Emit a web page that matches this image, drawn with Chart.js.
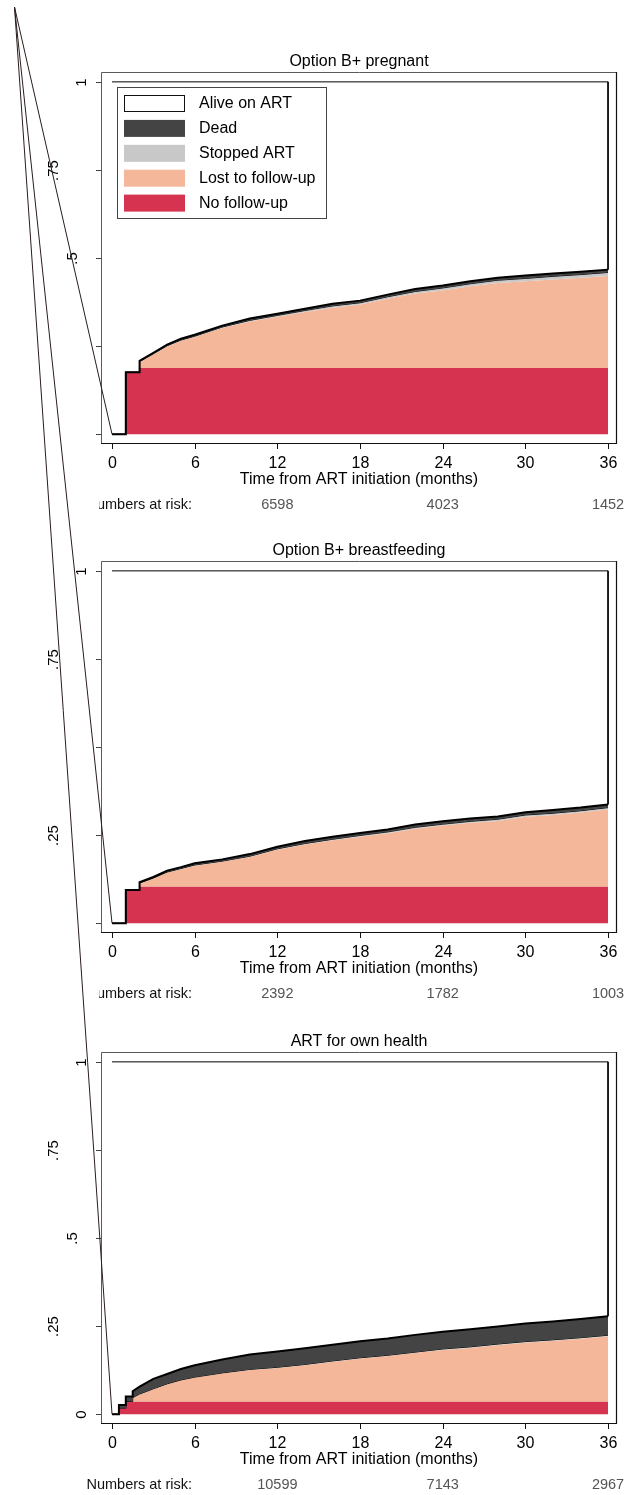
<!DOCTYPE html>
<html>
<head>
<meta charset="utf-8">
<script src="https://cdn.jsdelivr.net/npm/chart.js@4.4.1/dist/chart.umd.min.js"></script>
<style>
  html, body { margin: 0; padding: 0; background: #fff; }
  #page { position: relative; width: 627px; height: 1495px; overflow: hidden; }
  .panel { position: absolute; left: 0; }
  #overlay { position: absolute; left: 0; top: 0; pointer-events: none; }
</style>
</head>
<body>
<div id="page">
  <canvas id="c1" class="panel" width="627" height="520" style="top:0"></canvas>
  <canvas id="c2" class="panel" width="627" height="520" style="top:489px"></canvas>
  <canvas id="c3" class="panel" width="627" height="515" style="top:980px"></canvas>
  <canvas id="overlay" width="627" height="1495"></canvas>
</div>
<script>
// outcome categories, bottom of the stack first
const outcomes = ['No follow-up', 'Lost to follow-up', 'Stopped ART', 'Dead', 'Alive on ART'];
const colors = ['#d5334f', '#f4b79a', '#c8c8c8', '#444444', '#ffffff'];

const xTicks = [0, 6, 12, 18, 24, 30, 36];
const yTicks = [0, 0.25, 0.5, 0.75, 1];
const yTickLabels = ['0', '.25', '.5', '.75', '1'];
const riskTimes = [12, 24, 36];

// Option B+ pregnant (cumulative incidence of each outcome)
const pregTime    = [0, 1, 1, 2, 2, 3, 4, 5, 6, 8, 10, 12, 14, 16, 18, 20, 22, 24, 26, 28, 30, 32, 34, 36];
const pregNoFu    = [0, 0, 0.176, 0.176, 0.188, 0.188, 0.188, 0.188, 0.188, 0.188, 0.188, 0.188, 0.188, 0.188, 0.188, 0.188, 0.188, 0.188, 0.188, 0.188, 0.188, 0.188, 0.188, 0.188];
const pregLost    = [0, 0, 0, 0, 0.017, 0.039, 0.061, 0.077, 0.088, 0.113, 0.132, 0.145, 0.159, 0.171, 0.180, 0.196, 0.211, 0.220, 0.232, 0.241, 0.246, 0.251, 0.256, 0.261];
const pregStopped = [0, 0, 0, 0, 0.001, 0.001, 0.002, 0.002, 0.002, 0.003, 0.003, 0.004, 0.004, 0.005, 0.005, 0.006, 0.006, 0.007, 0.007, 0.008, 0.008, 0.009, 0.009, 0.010];
const pregDead    = [0, 0, 0, 0, 0.002, 0.003, 0.003, 0.004, 0.004, 0.004, 0.005, 0.005, 0.005, 0.006, 0.006, 0.006, 0.007, 0.007, 0.007, 0.007, 0.008, 0.008, 0.008, 0.008];
const pregRisk    = [6598, 4023, 1452];

// Option B+ breastfeeding
const bfTime    = [0, 1, 1, 2, 2, 3, 4, 5, 6, 8, 10, 12, 14, 16, 18, 20, 22, 24, 26, 28, 30, 32, 34, 36];
const bfNoFu    = [0, 0, 0.094, 0.094, 0.104, 0.104, 0.104, 0.104, 0.104, 0.104, 0.104, 0.104, 0.104, 0.104, 0.104, 0.104, 0.104, 0.104, 0.104, 0.104, 0.104, 0.104, 0.104, 0.104];
const bfLost    = [0, 0, 0, 0, 0.009, 0.023, 0.040, 0.049, 0.059, 0.070, 0.084, 0.104, 0.119, 0.131, 0.141, 0.151, 0.164, 0.173, 0.181, 0.186, 0.198, 0.203, 0.210, 0.219];
const bfStopped = [0, 0, 0, 0, 0.001, 0.001, 0.001, 0.002, 0.002, 0.002, 0.002, 0.003, 0.003, 0.003, 0.004, 0.004, 0.004, 0.004, 0.004, 0.005, 0.005, 0.005, 0.005, 0.005];
const bfDead    = [0, 0, 0, 0, 0.002, 0.003, 0.004, 0.004, 0.005, 0.005, 0.006, 0.006, 0.007, 0.007, 0.007, 0.007, 0.008, 0.008, 0.008, 0.008, 0.008, 0.009, 0.009, 0.009];
const bfRisk    = [2392, 1782, 1003];

// ART for own health
const ownTime    = [0, 0.5, 0.5, 1, 1, 1.5, 1.5, 2, 3, 4, 5, 6, 8, 10, 12, 14, 16, 18, 20, 22, 24, 26, 28, 30, 32, 34, 36];
const ownNoFu    = [0, 0, 0.017, 0.017, 0.036, 0.036, 0.036, 0.036, 0.036, 0.036, 0.036, 0.036, 0.036, 0.036, 0.036, 0.036, 0.036, 0.036, 0.036, 0.036, 0.036, 0.036, 0.036, 0.036, 0.036, 0.036, 0.036];
const ownLost    = [0, 0, 0, 0, 0, 0, 0.011, 0.020, 0.035, 0.049, 0.060, 0.068, 0.080, 0.089, 0.095, 0.103, 0.113, 0.122, 0.129, 0.138, 0.146, 0.152, 0.160, 0.167, 0.172, 0.178, 0.185];
const ownStopped = [0, 0, 0, 0, 0, 0, 0, 0.001, 0.001, 0.001, 0.001, 0.001, 0.001, 0.002, 0.002, 0.002, 0.002, 0.002, 0.002, 0.002, 0.003, 0.003, 0.003, 0.003, 0.003, 0.003, 0.003];
const ownDead    = [0, 0, 0.009, 0.009, 0.014, 0.014, 0.018, 0.021, 0.028, 0.028, 0.031, 0.034, 0.038, 0.042, 0.045, 0.046, 0.046, 0.047, 0.048, 0.049, 0.049, 0.050, 0.050, 0.051, 0.052, 0.053, 0.054];
const ownRisk    = [10599, 7143, 2967];

const FONT = "'Liberation Sans', Arial, Helvetica, sans-serif";
const PLOT_BOTTOM = 444; // frame bottom inside each panel canvas

// running sums so each area sits on the one below it
function stackUp(time, parts) {
    let run = time.map(() => 0);
    return parts.map(p => {
        run = run.map((r, i) => r + p[i]);
        return run.map((y, i) => ({ x: time[i], y: +y.toFixed(4) }));
    });
}

const panelDecor = {
    id: 'panelDecor',
    afterDraw(chart, args, opts) {
        const ctx = chart.ctx;
        const { left, top, right, bottom } = chart.chartArea;
        const xs = chart.scales.x, ys = chart.scales.y;
        ctx.save();

        // plot frame
        ctx.lineWidth = 1;
        ctx.strokeStyle = '#5a5a5a';
        ctx.beginPath();
        ctx.moveTo(left + 0.5, bottom);
        ctx.lineTo(left + 0.5, top + 0.5);
        ctx.lineTo(right, top + 0.5);
        ctx.stroke();
        ctx.strokeStyle = '#111';
        ctx.lineWidth = 1.2;
        ctx.beginPath();
        ctx.moveTo(right - 0.5, top);
        ctx.lineTo(right - 0.5, bottom - 0.5);
        ctx.lineTo(left, bottom - 0.5);
        ctx.stroke();

        // title
        ctx.fillStyle = '#000';
        ctx.font = '16px ' + FONT;
        ctx.textAlign = 'center';
        ctx.textBaseline = 'middle';
        ctx.fillText(opts.title, (left + right) / 2, top - 10);

        // x axis
        ctx.strokeStyle = '#111';
        ctx.lineWidth = 1;
        xTicks.forEach(t => {
            const x = Math.round(xs.getPixelForValue(t)) + 0.5;
            ctx.beginPath();
            ctx.moveTo(x, bottom);
            ctx.lineTo(x, bottom + 5);
            ctx.stroke();
            ctx.fillText(String(t), x, bottom + 20);
        });
        ctx.fillText('Time from ART initiation (months)', (left + right) / 2, bottom + 36);

        // y axis, rotated labels
        ctx.strokeStyle = '#444';
        yTicks.forEach((v, i) => {
            const y = Math.round(ys.getPixelForValue(v)) + 0.5;
            ctx.beginPath();
            ctx.moveTo(left - 5, y);
            ctx.lineTo(left, y);
            ctx.stroke();
            const lab = yTickLabels[i];
            if (!opts.yShown.includes(lab)) return;
            ctx.font = '15px ' + FONT;
            const w = ctx.measureText(lab).width;
            ctx.save();
            ctx.translate(left - 1 - 2.2 * w, y);
            ctx.rotate(-Math.PI / 2);
            ctx.fillText(lab, 0, 0);
            ctx.restore();
        });

        // numbers at risk
        const ry = bottom + 61;
        ctx.font = '14.5px ' + FONT;
        ctx.save();
        if (opts.clipRisk) {
            ctx.beginPath();
            ctx.rect(99, 0, chart.width, chart.height);
            ctx.clip();
        }
        ctx.textAlign = 'right';
        ctx.fillStyle = '#111';
        ctx.fillText('Numbers at risk:', 192, ry);
        ctx.restore();
        ctx.textAlign = 'center';
        ctx.fillStyle = '#555';
        riskTimes.forEach((t, i) => {
            ctx.fillText(String(opts.risk[i]), xs.getPixelForValue(t), ry);
        });

        // legend
        if (opts.legend) {
            const lx = 117, ly = 87, lw = 209, lh = 131;
            ctx.strokeStyle = '#444';
            ctx.lineWidth = 1;
            ctx.strokeRect(lx + 0.5, ly + 0.5, lw, lh);
            ctx.font = '16px ' + FONT;
            ctx.textAlign = 'left';
            const order = [4, 3, 2, 1, 0];
            order.forEach((k, i) => {
                const cy = ly + 16 + i * 24.9;
                ctx.fillStyle = colors[k];
                ctx.fillRect(124, cy - 8, 61, 17);
                if (k === 4) {
                    ctx.strokeStyle = '#111';
                    ctx.strokeRect(124.5, cy - 7.5, 60, 16);
                }
                ctx.fillStyle = '#000';
                ctx.fillText(outcomes[k], 199, cy + 1);
            });
        }
        ctx.restore();
    }
};

function makePanel(id, time, parts, opts) {
    const canvas = document.getElementById(id);
    const stacked = stackUp(time, parts);
    const topEnd = stacked[3][stacked[3].length - 1].y;
    const alive = [{ x: 0, y: 1 }, { x: 36, y: 1 }, { x: 36, y: topEnd }];
    const datasets = stacked.map((pts, i) => ({
        label: outcomes[i],
        data: pts,
        backgroundColor: colors[i],
        borderColor: i >= 2 ? '#000' : colors[i],
        borderWidth: i === 3 ? 2 : (i === 2 ? 1 : 0),
        fill: i === 0 ? 'origin' : '-1',
        order: 4 - i
    }));
    datasets.push({
        label: outcomes[4],
        data: alive,
        backgroundColor: colors[4],
        borderColor: '#000',
        borderWidth: 1,
        fill: false,
        order: -1
    });
    return new Chart(canvas, {
        type: 'line',
        data: { datasets: datasets },
        options: {
            responsive: false,
            animation: false,
            events: [],
            layout: { padding: { left: 101, top: 72, right: 10, bottom: canvas.height - PLOT_BOTTOM } },
            elements: { point: { radius: 0 }, line: { tension: 0 } },
            scales: {
                x: { type: 'linear', min: -0.8, max: 36.65, display: false },
                y: { type: 'linear', min: -0.028, max: 1.028, display: false }
            },
            plugins: {
                legend: { display: false },
                tooltip: { enabled: false },
                panelDecor: opts
            }
        },
        plugins: [panelDecor]
    });
}

const charts = [
    makePanel('c1', pregTime, [pregNoFu, pregLost, pregStopped, pregDead],
        { title: 'Option B+ pregnant', risk: pregRisk, yShown: ['1', '.75', '.5'], clipRisk: true, legend: true }),
    makePanel('c2', bfTime, [bfNoFu, bfLost, bfStopped, bfDead],
        { title: 'Option B+ breastfeeding', risk: bfRisk, yShown: ['1', '.75', '.25'], clipRisk: true, legend: false }),
    makePanel('c3', ownTime, [ownNoFu, ownLost, ownStopped, ownDead],
        { title: 'ART for own health', risk: ownRisk, yShown: yTickLabels, clipRisk: false, legend: false })
];

// stray path strokes from the page corner to each panel's origin point
const ov = document.getElementById('overlay').getContext('2d');
ov.strokeStyle = '#2a1c1c';
ov.lineWidth = 1;
charts.forEach(ch => {
    const cv = ch.canvas;
    ov.beginPath();
    ov.moveTo(14.5, 7);
    ov.lineTo(ch.scales.x.getPixelForValue(0) + cv.offsetLeft, ch.scales.y.getPixelForValue(0) + cv.offsetTop);
    ov.stroke();
});
</script>
</body>
</html>
